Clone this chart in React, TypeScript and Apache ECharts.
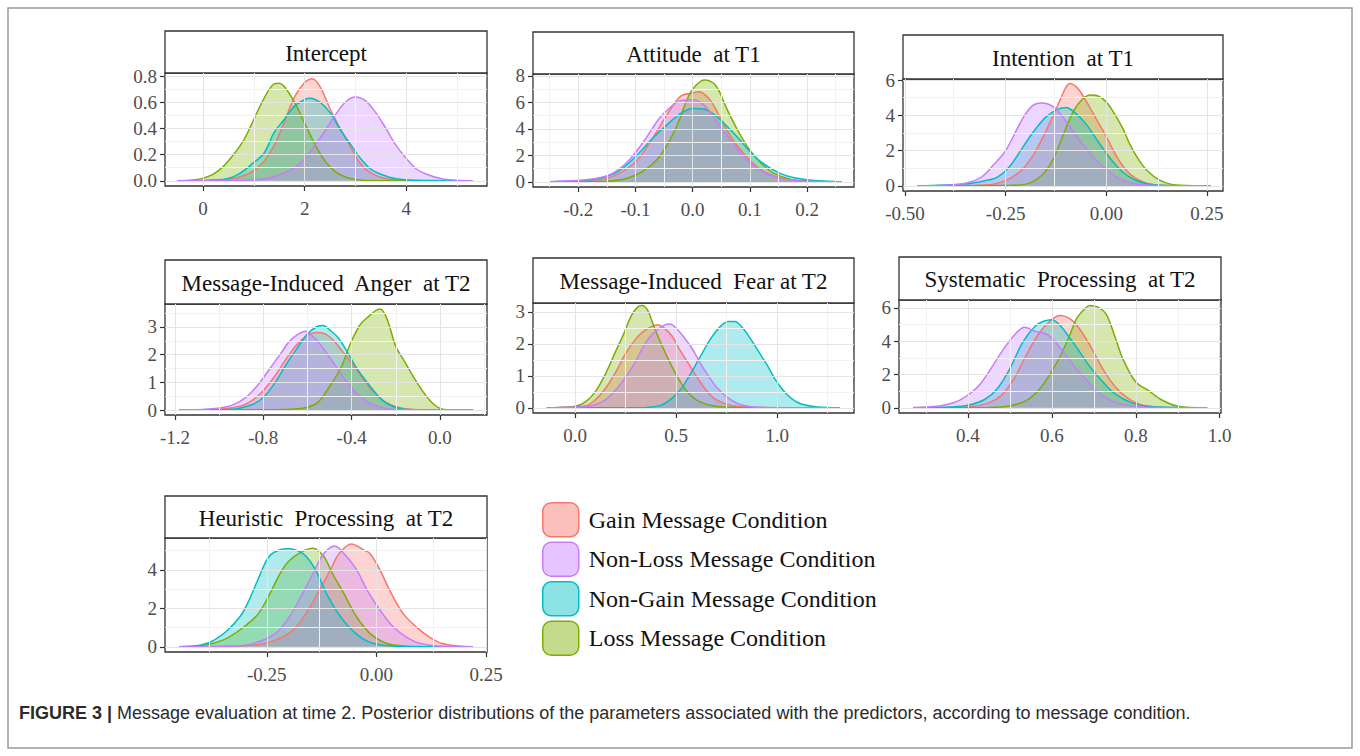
import React, { useEffect, useRef } from "react";
import * as echarts from "echarts";

// ---------- categories / legend ----------
const conditions = [
  "Gain Message Condition",
  "Non-Loss Message Condition",
  "Non-Gain Message Condition",
  "Loss Message Condition",
];
// order in which the densities are layered (last one on top)
const drawOrder = [0, 3, 2, 1];

const panelTitles = [
  "Intercept",
  "Attitude  at T1",
  "Intention  at T1",
  "Message-Induced  Anger  at T2",
  "Message-Induced  Fear at T2",
  "Systematic  Processing  at T2",
  "Heuristic  Processing  at T2",
];

// ---------- tick labels ----------
const xTickLabels = [
  ["0", "2", "4"],
  ["-0.2", "-0.1", "0.0", "0.1", "0.2"],
  ["-0.50", "-0.25", "0.00", "0.25"],
  ["-1.2", "-0.8", "-0.4", "0.0"],
  ["0.0", "0.5", "1.0"],
  ["0.4", "0.6", "0.8", "1.0"],
  ["-0.25", "0.00", "0.25"],
];
const yTickLabels = [
  ["0.0", "0.2", "0.4", "0.6", "0.8"],
  ["0", "2", "4", "6", "8"],
  ["0", "2", "4", "6"],
  ["0", "1", "2", "3"],
  ["0", "1", "2", "3"],
  ["0", "2", "4", "6"],
  ["0", "2", "4"],
];

// ---------- densities (x, density) ----------
// Intercept
const interceptGain = [[-0.5,0],[0.5,0.01],[0.8,0.04],[1.0,0.08],[1.2,0.15],[1.4,0.27],[1.6,0.45],[1.8,0.64],[2.0,0.75],[2.15,0.78],[2.3,0.72],[2.5,0.55],[2.7,0.4],[2.9,0.26],[3.1,0.13],[3.3,0.06],[3.6,0.015],[4.0,0.002],[5.3,0]];
const interceptNonLoss = [[-0.5,0],[1.0,0.005],[1.4,0.03],[1.8,0.1],[2.0,0.17],[2.2,0.27],[2.4,0.38],[2.6,0.5],[2.8,0.6],[3.0,0.64],[3.2,0.61],[3.4,0.52],[3.6,0.4],[3.8,0.27],[4.0,0.17],[4.2,0.09],[4.4,0.05],[4.7,0.015],[5.0,0.004],[5.3,0]];
const interceptNonGain = [[-0.5,0],[0.4,0.01],[0.7,0.05],[1.0,0.14],[1.2,0.21],[1.4,0.37],[1.6,0.47],[1.8,0.57],[2.0,0.62],[2.1,0.63],[2.3,0.6],[2.5,0.52],[2.7,0.39],[2.9,0.28],[3.1,0.17],[3.3,0.09],[3.5,0.05],[3.8,0.015],[4.2,0.003],[5.3,0]];
const interceptLoss = [[-0.5,0],[-0.2,0.005],[0,0.02],[0.2,0.05],[0.4,0.11],[0.6,0.2],[0.8,0.31],[1.0,0.47],[1.2,0.63],[1.4,0.74],[1.5,0.745],[1.6,0.72],[1.8,0.6],[2.0,0.44],[2.2,0.28],[2.4,0.15],[2.6,0.07],[2.8,0.03],[3.0,0.01],[3.4,0],[5.3,0]];

// Attitude at T1
const attitudeGain = [[-0.25,0],[-0.18,0.1],[-0.14,0.4],[-0.1,1.5],[-0.07,3.3],[-0.04,5.4],[-0.02,6.5],[0.0,6.7],[0.01,6.8],[0.03,6.2],[0.05,4.7],[0.07,3.2],[0.09,2.1],[0.12,0.9],[0.15,0.35],[0.19,0.08],[0.26,0]];
const attitudeNonLoss = [[-0.25,0.02],[-0.2,0.1],[-0.17,0.25],[-0.14,0.65],[-0.11,1.7],[-0.08,3.4],[-0.06,4.7],[-0.04,5.6],[-0.02,6.15],[0.0,6.2],[0.02,5.8],[0.04,4.7],[0.06,3.5],[0.08,2.4],[0.1,1.45],[0.13,0.6],[0.16,0.2],[0.2,0.05],[0.26,0]];
const attitudeNonGain = [[-0.25,0.02],[-0.2,0.08],[-0.16,0.3],[-0.13,0.8],[-0.1,1.9],[-0.07,3.3],[-0.04,4.5],[-0.02,5.2],[0.0,5.55],[0.02,5.5],[0.04,5.0],[0.06,4.2],[0.08,3.3],[0.1,2.3],[0.12,1.5],[0.15,0.7],[0.18,0.3],[0.22,0.08],[0.26,0]];
const attitudeLoss = [[-0.25,0],[-0.15,0.05],[-0.1,0.5],[-0.06,1.8],[-0.03,4.0],[-0.01,6.2],[0.0,7.0],[0.02,7.7],[0.04,7.3],[0.06,5.5],[0.08,3.8],[0.1,2.4],[0.12,1.4],[0.14,0.7],[0.17,0.2],[0.2,0.05],[0.26,0]];

// Intention at T1
const intentionGain = [[-0.47,0],[-0.3,0.05],[-0.25,0.3],[-0.21,0.9],[-0.18,1.8],[-0.15,3.1],[-0.12,4.6],[-0.1,5.6],[-0.09,5.8],[-0.07,5.5],[-0.05,4.8],[-0.03,4.0],[0.0,2.8],[0.03,1.5],[0.06,0.65],[0.1,0.15],[0.15,0.02],[0.26,0]];
const intentionNonLoss = [[-0.47,0],[-0.4,0.03],[-0.35,0.15],[-0.31,0.5],[-0.28,1.2],[-0.25,2.0],[-0.22,3.3],[-0.2,4.1],[-0.18,4.6],[-0.16,4.7],[-0.14,4.6],[-0.12,4.25],[-0.09,3.35],[-0.06,2.4],[-0.03,1.6],[0.0,0.95],[0.03,0.45],[0.07,0.12],[0.12,0.02],[0.26,0]];
const intentionNonGain = [[-0.47,0],[-0.35,0.1],[-0.3,0.3],[-0.27,0.5],[-0.24,1.1],[-0.21,2.1],[-0.18,3.1],[-0.15,3.9],[-0.12,4.35],[-0.1,4.45],[-0.08,4.2],[-0.05,3.5],[-0.02,2.5],[0.01,1.55],[0.04,0.8],[0.07,0.35],[0.1,0.12],[0.15,0.02],[0.26,0]];
const intentionLoss = [[-0.47,0],[-0.25,0.02],[-0.2,0.1],[-0.16,0.6],[-0.13,1.6],[-0.1,3.3],[-0.08,4.3],[-0.06,4.9],[-0.04,5.15],[-0.02,5.1],[0.0,4.75],[0.02,4.1],[0.04,3.3],[0.06,2.3],[0.08,1.5],[0.1,0.9],[0.13,0.35],[0.16,0.1],[0.2,0.02],[0.26,0]];

// Message-Induced Anger at T2
const angerGain = [[-1.18,0],[-1.0,0.03],[-0.9,0.15],[-0.85,0.35],[-0.8,0.7],[-0.75,1.2],[-0.7,1.8],[-0.65,2.35],[-0.6,2.7],[-0.56,2.8],[-0.52,2.75],[-0.48,2.5],[-0.44,2.1],[-0.4,1.7],[-0.35,1.15],[-0.3,0.65],[-0.25,0.3],[-0.2,0.12],[-0.12,0.02],[0.15,0]];
const angerNonLoss = [[-1.18,0],[-1.05,0.04],[-0.95,0.15],[-0.88,0.45],[-0.82,0.95],[-0.77,1.5],[-0.72,2.05],[-0.68,2.5],[-0.64,2.75],[-0.61,2.85],[-0.58,2.7],[-0.54,2.35],[-0.5,1.9],[-0.46,1.45],[-0.42,1.0],[-0.37,0.55],[-0.32,0.25],[-0.26,0.08],[-0.2,0.02],[0.15,0]];
const angerNonGain = [[-1.18,0],[-0.95,0.02],[-0.85,0.2],[-0.8,0.45],[-0.75,0.95],[-0.7,1.6],[-0.65,2.2],[-0.6,2.75],[-0.56,3.0],[-0.53,3.05],[-0.5,2.9],[-0.46,2.6],[-0.42,2.1],[-0.38,1.55],[-0.34,1.1],[-0.3,0.7],[-0.26,0.35],[-0.21,0.12],[-0.15,0.02],[0.15,0]];
const angerLoss = [[-1.18,0],[-0.7,0.02],[-0.6,0.1],[-0.55,0.3],[-0.5,0.85],[-0.45,1.5],[-0.4,2.5],[-0.36,3.1],[-0.32,3.4],[-0.29,3.6],[-0.27,3.65],[-0.24,3.3],[-0.2,2.3],[-0.16,1.75],[-0.12,1.2],[-0.08,0.7],[-0.04,0.3],[0.0,0.06],[0.05,0.01],[0.15,0]];

// Message-Induced Fear at T2
const fearGain = [[-0.14,0],[0.05,0.06],[0.1,0.25],[0.15,0.6],[0.2,1.1],[0.25,1.7],[0.3,2.15],[0.34,2.4],[0.38,2.55],[0.41,2.6],[0.44,2.5],[0.48,2.25],[0.52,1.8],[0.56,1.4],[0.6,1.0],[0.65,0.55],[0.7,0.25],[0.78,0.07],[0.9,0.01],[1.31,0]];
const fearNonLoss = [[-0.14,0],[0.05,0.04],[0.1,0.1],[0.15,0.25],[0.2,0.55],[0.25,0.95],[0.3,1.45],[0.35,2.05],[0.4,2.4],[0.44,2.58],[0.47,2.62],[0.5,2.5],[0.54,2.2],[0.58,1.85],[0.62,1.4],[0.66,1.0],[0.7,0.65],[0.75,0.35],[0.82,0.1],[0.95,0.01],[1.31,0]];
const fearNonGain = [[-0.14,0],[0.35,0.01],[0.42,0.07],[0.47,0.25],[0.52,0.55],[0.57,1.05],[0.62,1.6],[0.67,2.15],[0.72,2.55],[0.76,2.7],[0.79,2.7],[0.83,2.5],[0.87,2.15],[0.91,1.75],[0.95,1.35],[0.99,0.9],[1.03,0.55],[1.07,0.3],[1.12,0.12],[1.2,0.03],[1.31,0]];
const fearLoss = [[-0.14,0],[0.0,0.05],[0.05,0.18],[0.1,0.5],[0.15,1.05],[0.2,1.75],[0.24,2.3],[0.28,2.9],[0.31,3.15],[0.33,3.2],[0.36,3.05],[0.39,2.55],[0.42,2.1],[0.46,1.55],[0.5,1.05],[0.55,0.55],[0.6,0.25],[0.67,0.08],[0.75,0.02],[1.31,0]];

// Systematic Processing at T2
const systematicGain = [[0.27,0],[0.4,0.05],[0.45,0.3],[0.48,0.75],[0.51,1.75],[0.54,3.2],[0.57,4.5],[0.6,5.3],[0.62,5.55],[0.64,5.4],[0.66,4.95],[0.69,3.8],[0.72,2.4],[0.75,1.3],[0.78,0.6],[0.81,0.2],[0.85,0.05],[0.9,0.01],[0.97,0]];
const systematicNonLoss = [[0.27,0.02],[0.32,0.08],[0.35,0.2],[0.38,0.45],[0.41,0.95],[0.43,1.45],[0.46,2.55],[0.48,3.35],[0.51,4.35],[0.535,4.85],[0.56,4.6],[0.59,4.4],[0.62,3.6],[0.65,2.6],[0.68,1.75],[0.71,0.95],[0.74,0.45],[0.78,0.15],[0.85,0.02],[0.97,0]];
const systematicNonGain = [[0.27,0],[0.36,0.05],[0.4,0.15],[0.44,0.5],[0.47,1.15],[0.5,2.35],[0.53,3.9],[0.56,4.9],[0.58,5.2],[0.6,5.3],[0.62,4.95],[0.64,4.3],[0.66,3.6],[0.69,2.5],[0.72,1.6],[0.75,0.85],[0.79,0.3],[0.84,0.06],[0.97,0]];
const systematicLoss = [[0.27,0],[0.45,0.02],[0.5,0.12],[0.54,0.45],[0.57,1.1],[0.6,2.2],[0.62,3.1],[0.64,4.2],[0.66,5.4],[0.68,6.0],[0.69,6.15],[0.71,6.05],[0.73,5.6],[0.75,4.3],[0.77,2.9],[0.8,1.55],[0.83,1.05],[0.86,0.5],[0.9,0.1],[0.97,0]];

// Heuristic Processing at T2
const heuristicGain = [[-0.45,0],[-0.28,0.08],[-0.23,0.35],[-0.19,0.87],[-0.16,1.75],[-0.13,2.95],[-0.105,4.0],[-0.085,4.85],[-0.057,5.35],[-0.03,5.05],[-0.015,4.85],[0.008,4.0],[0.03,2.95],[0.06,1.75],[0.09,1.05],[0.12,0.52],[0.15,0.17],[0.19,0.04],[0.22,0]];
const heuristicNonLoss = [[-0.45,0],[-0.31,0.05],[-0.27,0.25],[-0.23,0.7],[-0.2,1.5],[-0.17,2.7],[-0.145,3.8],[-0.12,4.85],[-0.095,5.25],[-0.07,4.75],[-0.045,4.0],[-0.02,2.9],[0.01,1.85],[0.04,1.0],[0.07,0.48],[0.1,0.17],[0.14,0.04],[0.22,0]];
const heuristicNonGain = [[-0.45,0],[-0.4,0.1],[-0.37,0.35],[-0.34,0.85],[-0.31,1.6],[-0.29,2.45],[-0.27,3.5],[-0.245,4.7],[-0.22,5.05],[-0.2,5.1],[-0.18,5.0],[-0.16,4.7],[-0.14,4.05],[-0.11,2.6],[-0.08,1.5],[-0.05,0.75],[-0.02,0.28],[0.03,0.05],[0.1,0],[0.22,0]];
const heuristicLoss = [[-0.45,0],[-0.39,0.1],[-0.35,0.35],[-0.31,0.9],[-0.27,1.7],[-0.24,2.9],[-0.22,3.8],[-0.2,4.45],[-0.17,4.95],[-0.145,5.13],[-0.12,4.7],[-0.1,3.8],[-0.075,2.8],[-0.045,1.55],[-0.015,0.7],[0.015,0.25],[0.045,0.08],[0.1,0.01],[0.22,0]];

const panelCurves = [
  [interceptGain, interceptNonLoss, interceptNonGain, interceptLoss],
  [attitudeGain, attitudeNonLoss, attitudeNonGain, attitudeLoss],
  [intentionGain, intentionNonLoss, intentionNonGain, intentionLoss],
  [angerGain, angerNonLoss, angerNonGain, angerLoss],
  [fearGain, fearNonLoss, fearNonGain, fearLoss],
  [systematicGain, systematicNonLoss, systematicNonGain, systematicLoss],
  [heuristicGain, heuristicNonLoss, heuristicNonGain, heuristicLoss],
];

const captionBold = "FIGURE 3 |";
const captionText =
  "Message evaluation at time 2. Posterior distributions of the parameters associated with the predictors, according to message condition.";

// ---------- layout & styles ----------
const lineColors = ["#F8766D", "#C77CFF", "#00BFC4", "#7CAE00"];
const fillColors = [
  "rgba(248,118,109,0.45)",
  "rgba(199,124,255,0.45)",
  "rgba(0,191,196,0.45)",
  "rgba(124,174,0,0.45)",
];

const layout = [
  { left: 165, right: 487, stripTop: 31, top: 73, bottom: 186, xMin: -0.75, xMax: 5.59, yMin: -0.04, yMax: 0.823 },
  { left: 533, right: 854, stripTop: 32, top: 74, bottom: 187, xMin: -0.279, xMax: 0.282, yMin: -0.385, yMax: 8.15 },
  { left: 903, right: 1223, stripTop: 35, top: 79, bottom: 191, xMin: -0.505, xMax: 0.29, yMin: -0.29, yMax: 6.06 },
  { left: 165, right: 487, stripTop: 260, top: 304, bottom: 415, xMin: -1.245, xMax: 0.213, yMin: -0.18, yMax: 3.83 },
  { left: 533, right: 854, stripTop: 258, top: 303, bottom: 413, xMin: -0.208, xMax: 1.381, yMin: -0.16, yMax: 3.28 },
  { left: 899, right: 1221, stripTop: 257, top: 300, bottom: 413, xMin: 0.236, xMax: 1.003, yMin: -0.31, yMax: 6.48 },
  { left: 165, right: 487, stripTop: 496, top: 538, bottom: 652, xMin: -0.482, xMax: 0.252, yMin: -0.27, yMax: 5.66 },
];

const SERIF = "'Liberation Serif', 'DejaVu Serif', serif";
const SANS = "'Liberation Sans', Arial, sans-serif";

function minorBreaks(major: number[], lo: number, hi: number): number[] {
  const step = major[1] - major[0];
  const out: number[] = [];
  const first = major[0] - step / 2;
  if (first > lo) out.push(first);
  for (let i = 0; i < major.length - 1; i++) out.push((major[i] + major[i + 1]) / 2);
  const last = major[major.length - 1] + step / 2;
  if (last < hi) out.push(last);
  return out;
}

function buildOption() {
  const grid: any[] = [];
  const xAxis: any[] = [];
  const yAxis: any[] = [];
  const series: any[] = [];
  const graphic: any[] = [];

  graphic.push({
    type: "rect",
    shape: { x: 8, y: 8, width: 1344, height: 740 },
    style: { fill: "none", stroke: "#9a9a9a", lineWidth: 1.5 },
    silent: true,
  });

  layout.forEach((L, i) => {
    const xLabels = xTickLabels[i];
    const yLabels = yTickLabels[i];
    const xv = xLabels.map(Number);
    const yv = yLabels.map(Number);

    grid.push({
      left: L.left,
      top: L.top,
      width: L.right - L.left,
      height: L.bottom - L.top,
      show: true,
      backgroundColor: "#ffffff",
      borderColor: "#333333",
      borderWidth: 1.3,
    });
    xAxis.push({
      type: "value",
      gridIndex: i,
      min: L.xMin,
      max: L.xMax,
      axisLine: { show: false, onZero: false },
      axisTick: { show: true, length: 5, customValues: xv, lineStyle: { color: "#333", width: 1.2 } },
      axisLabel: {
        customValues: xv,
        formatter: (v: number) => xLabels[xv.indexOf(v)] ?? String(v),
        fontFamily: SERIF,
        fontSize: 19,
        color: "#4d4d4d",
        margin: 13,
      },
      splitLine: { show: false },
    });
    yAxis.push({
      type: "value",
      gridIndex: i,
      min: L.yMin,
      max: L.yMax,
      axisLine: { show: false, onZero: false },
      axisTick: { show: true, length: 5, customValues: yv, lineStyle: { color: "#333", width: 1.2 } },
      axisLabel: {
        customValues: yv,
        formatter: (v: number) => yLabels[yv.indexOf(v)] ?? String(v),
        fontFamily: SERIF,
        fontSize: 19,
        color: "#4d4d4d",
        margin: 8,
      },
      splitLine: { show: false },
    });

    const xMinor = minorBreaks(xv, L.xMin, L.xMax);
    const yMinor = minorBreaks(yv, L.yMin, L.yMax);
    const gl = (c: string) => ({ type: "solid", color: c, width: 1 });
    series.push({
      type: "line",
      name: "grid" + i,
      xAxisIndex: i,
      yAxisIndex: i,
      data: [],
      z: 1,
      silent: true,
      markLine: {
        silent: true,
        symbol: "none",
        animation: false,
        label: { show: false },
        data: [
          ...xMinor.map((v) => ({ xAxis: v, lineStyle: gl("#f2f2f2") })),
          ...yMinor.map((v) => ({ yAxis: v, lineStyle: gl("#f2f2f2") })),
          ...xv.map((v) => ({ xAxis: v, lineStyle: gl("#e4e4e4") })),
          ...yv.map((v) => ({ yAxis: v, lineStyle: gl("#e4e4e4") })),
        ],
      },
    });

    drawOrder.forEach((k) => {
      series.push({
        type: "line",
        name: conditions[k],
        xAxisIndex: i,
        yAxisIndex: i,
        data: panelCurves[i][k],
        smooth: 0.35,
        showSymbol: false,
        symbol: "none",
        z: 3,
        itemStyle: { color: lineColors[k] },
        lineStyle: { color: lineColors[k], width: 1.5 },
        areaStyle: { color: fillColors[k] },
      });
    });

    graphic.push({
      type: "rect",
      shape: { x: L.left, y: L.stripTop, width: L.right - L.left, height: L.top - L.stripTop },
      style: { fill: "#ffffff", stroke: "#333333", lineWidth: 1.3 },
      silent: true,
    });
    graphic.push({
      type: "text",
      x: (L.left + L.right) / 2,
      y: (L.stripTop + L.top) / 2 + 1,
      style: {
        text: panelTitles[i],
        align: "center",
        verticalAlign: "middle",
        fontFamily: SERIF,
        fontSize: 23,
        fill: "#111",
      },
      silent: true,
    });
  });

  graphic.push({
    type: "text",
    x: 19,
    y: 713,
    style: {
      text: "{b|" + captionBold + "} " + captionText,
      verticalAlign: "middle",
      fontFamily: SANS,
      fontSize: 18,
      fill: "#2b2b2b",
      rich: {
        b: { fontFamily: SANS, fontSize: 18, fontWeight: "bold", fill: "#2b2b2b" },
      },
    },
    silent: true,
  });

  return {
    animation: false,
    backgroundColor: "#ffffff",
    grid,
    xAxis,
    yAxis,
    series,
    graphic,
    legend: {
      orient: "vertical",
      left: 537,
      top: 497,
      itemWidth: 36,
      itemHeight: 34,
      itemGap: 4,
      icon: "roundRect",
      selectedMode: false,
      data: conditions.map((c, k) => ({
        name: c,
        itemStyle: { color: fillColors[k], borderColor: lineColors[k], borderWidth: 1.5 },
      })),
      textStyle: { fontFamily: SERIF, fontSize: 24, color: "#111", padding: [0, 0, 0, 5] },
    },
  };
}

export default function App() {
  const ref = useRef<HTMLDivElement | null>(null);
  useEffect(() => {
    if (!ref.current) return;
    const chart = echarts.init(ref.current, undefined, { renderer: "svg" });
    chart.setOption(buildOption() as any);
    return () => chart.dispose();
  }, []);
  return (
    <div
      ref={ref}
      style={{ position: "absolute", left: 0, top: 0, width: 1360, height: 756, background: "#fff" }}
    />
  );
}
